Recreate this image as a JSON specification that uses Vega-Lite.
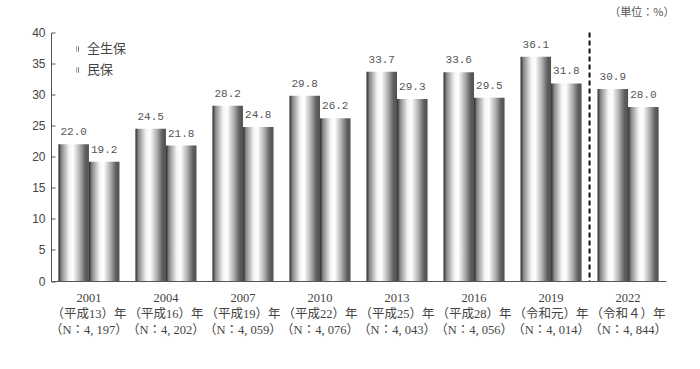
{
  "$schema": "https://vega.github.io/schema/vega-lite/v6.json",
  "width": 615,
  "height": 248.5,
  "autosize": "none",
  "padding": {"left": 51, "top": 32.5, "right": 34, "bottom": 88},
  "background": "white",
  "title": {
    "text": "（単位：%）",
    "anchor": "end",
    "orient": "top",
    "offset": 9,
    "dx": 8,
    "font": "Noto Sans CJK JP",
    "fontSize": 11,
    "fontWeight": "normal",
    "color": "#555"
  },
  "config": {
    "view": {"stroke": null},
    "axis": {"grid": false, "domainColor": "#555", "tickColor": "#555", "labelColor": "#444", "labelFont": "Liberation Serif, Noto Sans CJK JP", "labelFontSize": 12.5}
  },
  "datasets": {
    "bars": [
      {"year": "2001|（平成13）年|（N：4, 197）", "series": "全生保", "value": 22.0},
      {"year": "2001|（平成13）年|（N：4, 197）", "series": "民保", "value": 19.2},
      {"year": "2004|（平成16）年|（N：4, 202）", "series": "全生保", "value": 24.5},
      {"year": "2004|（平成16）年|（N：4, 202）", "series": "民保", "value": 21.8},
      {"year": "2007|（平成19）年|（N：4, 059）", "series": "全生保", "value": 28.2},
      {"year": "2007|（平成19）年|（N：4, 059）", "series": "民保", "value": 24.8},
      {"year": "2010|（平成22）年|（N：4, 076）", "series": "全生保", "value": 29.8},
      {"year": "2010|（平成22）年|（N：4, 076）", "series": "民保", "value": 26.2},
      {"year": "2013|（平成25）年|（N：4, 043）", "series": "全生保", "value": 33.7},
      {"year": "2013|（平成25）年|（N：4, 043）", "series": "民保", "value": 29.3},
      {"year": "2016|（平成28）年|（N：4, 056）", "series": "全生保", "value": 33.6},
      {"year": "2016|（平成28）年|（N：4, 056）", "series": "民保", "value": 29.5},
      {"year": "2019|（令和元）年|（N：4, 014）", "series": "全生保", "value": 36.1},
      {"year": "2019|（令和元）年|（N：4, 014）", "series": "民保", "value": 31.8},
      {"year": "2022|（令和４）年|（N：4, 844）", "series": "全生保", "value": 30.9},
      {"year": "2022|（令和４）年|（N：4, 844）", "series": "民保", "value": 28.0}
    ],
    "divider": [{"year": "2022|（令和４）年|（N：4, 844）"}]
  },
  "encoding": {
    "x": {
      "field": "year", "type": "nominal", "sort": null,
      "scale": {"paddingInner": 0.207, "paddingOuter": 0.096},
      "axis": {"title": null, "labelAngle": 0, "ticks": false, "labelPadding": 10, "labelLineHeight": 16, "labelExpr": "split(datum.label, '|')", "labelBaseline": "top"}
    }
  },
  "layer": [
    {
      "data": {"name": "bars"},
      "mark": {
        "type": "bar",
        "fill": {"gradient": "linear", "x1": 0, "y1": 0, "x2": 1, "y2": 0, "stops": [{"offset": 0, "color": "#2a2a2a"}, {"offset": 0.1, "color": "#888888"}, {"offset": 0.35, "color": "#f4f4f4"}, {"offset": 0.48, "color": "#ffffff"}, {"offset": 0.7, "color": "#b0b0b0"}, {"offset": 0.88, "color": "#606060"}, {"offset": 1, "color": "#505050"}]}
      },
      "encoding": {
        "xOffset": {"field": "series", "type": "nominal", "sort": ["全生保", "民保"], "scale": {"paddingInner": 0, "paddingOuter": 0}},
        "y": {
          "field": "value", "type": "quantitative",
          "scale": {"domain": [0, 40], "nice": false},
          "axis": {"title": null, "values": [0, 5, 10, 15, 20, 25, 30, 35, 40], "labelOverlap": false, "tickSize": -4, "labelPadding": 10, "labelFont": "Liberation Sans", "labelFontSize": 12}
        },
        "opacity": {
          "field": "series", "type": "nominal", "sort": ["全生保", "民保"],
          "scale": {"domain": ["全生保", "民保"], "range": [1, 1]},
          "legend": {
            "title": null, "orient": "none", "legendX": 20, "legendY": 10,
            "symbolType": "M-0.5,-1H0.5V1H-0.5Z", "symbolSize": 30, "symbolStrokeWidth": 0,
            "symbolFillColor": "#666", "symbolOpacity": 1,
            "labelFont": "Noto Sans CJK JP", "labelFontSize": 13, "labelColor": "#444",
            "rowPadding": 7, "labelOffset": 3
          }
        }
      }
    },
    {
      "data": {"name": "bars"},
      "mark": {"type": "text", "baseline": "bottom", "dy": -7, "font": "Liberation Mono", "fontSize": 11, "color": "#555"},
      "encoding": {
        "xOffset": {"field": "series", "type": "nominal", "sort": ["全生保", "民保"]},
        "y": {
          "field": "value", "type": "quantitative",
          "axis": {"title": null, "values": [0, 5, 10, 15, 20, 25, 30, 35, 40], "labelOverlap": false, "tickSize": -4, "labelPadding": 10, "labelFont": "Liberation Sans", "labelFontSize": 12}
        },
        "text": {"field": "value", "type": "quantitative", "format": ".1f"}
      }
    },
    {
      "data": {"name": "divider"},
      "mark": {"type": "rule", "color": "#111", "strokeWidth": 2, "strokeDash": [5, 3], "xOffset": -8},
      "encoding": {
        "x": {"field": "year", "type": "nominal", "bandPosition": 0}
      }
    }
  ]
}
